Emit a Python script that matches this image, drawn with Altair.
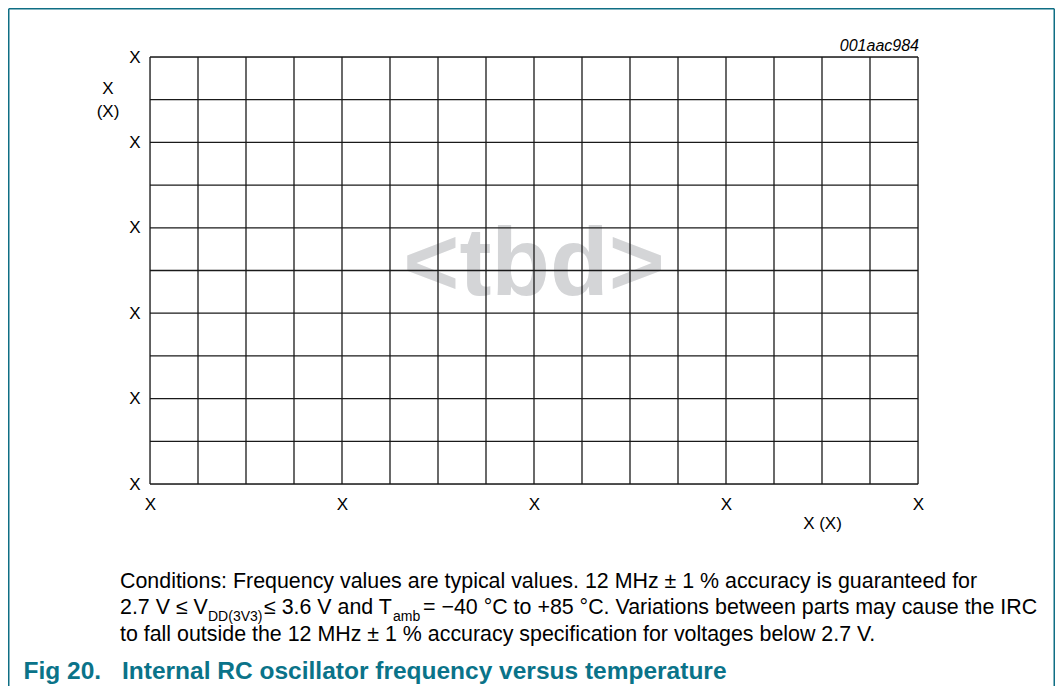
import altair as alt
import pandas as pd

# ---------------- data ----------------
x_grid = list(range(0, 17))          # vertical grid positions
y_grid = list(range(0, 11))          # horizontal grid positions
x_tick_values = [0, 4, 8, 12, 16]
x_tick_labels = ["X", "X", "X", "X", "X"]
y_tick_values = [0, 2, 4, 6, 8, 10]
y_tick_labels = ["X", "X", "X", "X", "X", "X"]
x_title = "X (X)"
y_title = ["X", "(X)"]
code_label = "001aac984"
watermark = "<tbd>"
caption_line1 = "Conditions: Frequency values are typical values. 12 MHz \u00b1 1 % accuracy is guaranteed for"
caption_line2 = ["2.7 V \u2264 V", "DD(3V3)", "\u2264 3.6 V and T", "amb",
                 "= \u221240 \u00b0C to +85 \u00b0C. Variations between parts may cause the IRC"]
caption_line3 = "to fall outside the 12 MHz \u00b1 1 % accuracy specification for voltages below 2.7 V."
fig_number = "Fig 20."
fig_title = "Internal RC oscillator frequency versus temperature"

FONT = "Liberation Sans"
TEAL = "#0a7389"
FRAME = "#0f6e84"
GRID = "#1a1a1a"
W, H = 768, 427
PAD = {"left": 142, "top": 49, "right": 137, "bottom": 202}
CAP = 21.4
SUB = 14


def label_expr(vals, labels):
    arr_l = "[" + ",".join("'" + l + "'" for l in labels) + "]"
    arr_v = "[" + ",".join(str(v) for v in vals) + "]"
    return f"{arr_l}[indexof({arr_v}, datum.value)]"


def txt(text, x, y, size=CAP, weight="normal", style="normal", align="left", color="black"):
    return alt.Chart(alt.Data(values=[{"t": text}])).mark_text(
        align=align, baseline="alphabetic", fontSize=size, fontWeight=weight,
        fontStyle=style, font=FONT, color=color
    ).encode(text="t:N", x=alt.value(x), y=alt.value(y))


xscale = alt.Scale(domain=[0, 16], nice=False, zero=False)
yscale = alt.Scale(domain=[0, 10], nice=False, zero=False)

vgrid = alt.Chart(pd.DataFrame({"x": x_grid})).mark_rule(color=GRID, strokeWidth=1.3).encode(
    x=alt.X("x:Q", scale=xscale, axis=alt.Axis(
        values=x_tick_values, labelExpr=label_expr(x_tick_values, x_tick_labels),
        grid=False, ticks=False, tickSize=0, domain=False, labelFlush=False, labelOverlap=False,
        labelFont=FONT, labelFontSize=17, labelColor="black", labelPadding=25,
        labelBaseline="alphabetic",
        title=x_title, titleFont=FONT, titleFontSize=17, titleFontWeight="normal",
        titleColor="black", titleX=672, titleY=44.5, titleAlign="center",
        titleBaseline="alphabetic"))
)

hgrid = alt.Chart(pd.DataFrame({"y": y_grid})).mark_rule(color=GRID, strokeWidth=1.3).encode(
    y=alt.Y("y:Q", scale=yscale, axis=alt.Axis(
        values=y_tick_values, labelExpr=label_expr(y_tick_values, y_tick_labels),
        grid=False, ticks=False, tickSize=0, domain=False, labelFlush=False, labelOverlap=False,
        labelFont=FONT, labelFontSize=17, labelColor="black", labelPadding=10,
        title=y_title, titleFont=FONT, titleFontSize=17, titleFontWeight="normal",
        titleColor="black", titleAngle=0, titleX=-42.5, titleY=36, titleAlign="center",
        titleBaseline="alphabetic", titleLineHeight=23))
)

tbd = txt(watermark, W / 2, 238, size=96, weight="bold", align="center", color="#d4d5d7")

one = alt.Data(values=[{}])
total_w = PAD["left"] + W + PAD["right"]
total_h = PAD["top"] + H + PAD["bottom"]
left_x = 0.75 - PAD["left"]
right_x = total_w - 0.75 - PAD["left"]
top_y = 0.75 - PAD["top"]
bottom_y = total_h - PAD["top"]
frame_left = alt.Chart(one).mark_rule(color=FRAME, strokeWidth=1.5).encode(
    x=alt.value(left_x), y=alt.value(top_y), y2=alt.value(bottom_y))
frame_right = alt.Chart(one).mark_rule(color=FRAME, strokeWidth=1.5).encode(
    x=alt.value(right_x), y=alt.value(top_y), y2=alt.value(bottom_y))
frame_top = alt.Chart(one).mark_rule(color=FRAME, strokeWidth=1.5).encode(
    x=alt.value(left_x), x2=alt.value(right_x), y=alt.value(top_y))

layers = [
    frame_left, frame_right, frame_top,
    tbd, vgrid, hgrid,
    txt(code_label, 769, -6, size=16, style="italic", align="right"),
    txt(caption_line1, -30, 530.5),
    txt(caption_line2[0], -30, 557),
    txt(caption_line2[1], 58, 563.5, size=SUB),
    txt(caption_line2[2], 114, 557),
    txt(caption_line2[3], 243, 563.5, size=SUB),
    txt(caption_line2[4], 273, 557),
    txt(caption_line3, -30, 583.5),
    txt(fig_number, -126.5, 621.5, size=24.5, weight="bold", color=TEAL),
    txt(fig_title, -28, 621.5, size=24.5, weight="bold", color=TEAL),
]

chart = alt.layer(*layers).properties(
    width=W, height=H,
    autosize=alt.AutoSizeParams(type="none"),
    padding=PAD,
).configure_view(strokeWidth=0).configure(font=FONT)

chart.save("out.html", embed_options={"renderer": "svg", "actions": False})
